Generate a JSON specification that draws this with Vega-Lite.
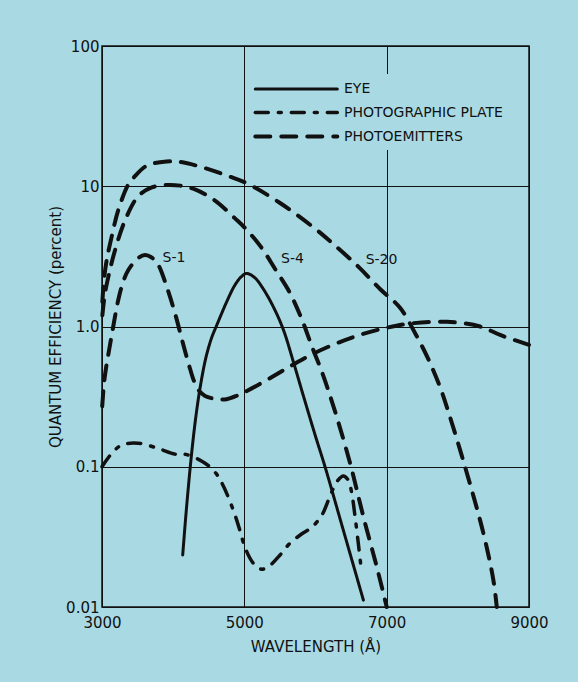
{
  "$schema": "https://vega.github.io/schema/vega-lite/v6.json",
  "width": 427,
  "height": 561,
  "autosize": {"type": "none"},
  "padding": {"left": 102, "top": 46, "right": 49, "bottom": 75},
  "background": "#a9dae4",
  "config": {
    "view": {"stroke": "#111", "strokeWidth": 1.5},
    "font": "DejaVu Sans",
    "axis": {
      "domain": false,
      "ticks": false,
      "grid": true,
      "gridColor": "#111",
      "gridWidth": 1,
      "gridOpacity": 1,
      "labelFont": "DejaVu Sans",
      "labelFontSize": 15,
      "labelColor": "#111",
      "titleFont": "DejaVu Sans",
      "titleFontSize": 15,
      "titleFontWeight": "normal",
      "titleColor": "#111"
    }
  },
  "datasets": {
    "curves": [
      {"curve": "eye", "type": "EYE", "wavelength": 4134, "qe": 0.0235},
      {"curve": "eye", "type": "EYE", "wavelength": 4180, "qe": 0.046},
      {"curve": "eye", "type": "EYE", "wavelength": 4227, "qe": 0.085},
      {"curve": "eye", "type": "EYE", "wavelength": 4270, "qe": 0.14},
      {"curve": "eye", "type": "EYE", "wavelength": 4320, "qe": 0.23},
      {"curve": "eye", "type": "EYE", "wavelength": 4380, "qe": 0.37},
      {"curve": "eye", "type": "EYE", "wavelength": 4460, "qe": 0.6},
      {"curve": "eye", "type": "EYE", "wavelength": 4540, "qe": 0.83},
      {"curve": "eye", "type": "EYE", "wavelength": 4612, "qe": 1.02},
      {"curve": "eye", "type": "EYE", "wavelength": 4752, "qe": 1.5},
      {"curve": "eye", "type": "EYE", "wavelength": 4869, "qe": 1.98},
      {"curve": "eye", "type": "EYE", "wavelength": 4960, "qe": 2.27},
      {"curve": "eye", "type": "EYE", "wavelength": 5034, "qe": 2.39},
      {"curve": "eye", "type": "EYE", "wavelength": 5150, "qe": 2.22},
      {"curve": "eye", "type": "EYE", "wavelength": 5267, "qe": 1.85},
      {"curve": "eye", "type": "EYE", "wavelength": 5408, "qe": 1.38},
      {"curve": "eye", "type": "EYE", "wavelength": 5548, "qe": 0.95},
      {"curve": "eye", "type": "EYE", "wavelength": 5689, "qe": 0.56},
      {"curve": "eye", "type": "EYE", "wavelength": 5830, "qe": 0.32},
      {"curve": "eye", "type": "EYE", "wavelength": 6000, "qe": 0.165},
      {"curve": "eye", "type": "EYE", "wavelength": 6134, "qe": 0.1},
      {"curve": "eye", "type": "EYE", "wavelength": 6400, "qe": 0.034},
      {"curve": "eye", "type": "EYE", "wavelength": 6673, "qe": 0.0112},

      {"curve": "plate", "type": "PHOTOGRAPHIC PLATE", "wavelength": 3000, "qe": 0.1},
      {"curve": "plate", "type": "PHOTOGRAPHIC PLATE", "wavelength": 3140, "qe": 0.125},
      {"curve": "plate", "type": "PHOTOGRAPHIC PLATE", "wavelength": 3277, "qe": 0.143},
      {"curve": "plate", "type": "PHOTOGRAPHIC PLATE", "wavelength": 3510, "qe": 0.147},
      {"curve": "plate", "type": "PHOTOGRAPHIC PLATE", "wavelength": 3791, "qe": 0.135},
      {"curve": "plate", "type": "PHOTOGRAPHIC PLATE", "wavelength": 4026, "qe": 0.123},
      {"curve": "plate", "type": "PHOTOGRAPHIC PLATE", "wavelength": 4190, "qe": 0.122},
      {"curve": "plate", "type": "PHOTOGRAPHIC PLATE", "wavelength": 4448, "qe": 0.106},
      {"curve": "plate", "type": "PHOTOGRAPHIC PLATE", "wavelength": 4600, "qe": 0.09},
      {"curve": "plate", "type": "PHOTOGRAPHIC PLATE", "wavelength": 4705, "qe": 0.073},
      {"curve": "plate", "type": "PHOTOGRAPHIC PLATE", "wavelength": 4845, "qe": 0.049},
      {"curve": "plate", "type": "PHOTOGRAPHIC PLATE", "wavelength": 4939, "qe": 0.035},
      {"curve": "plate", "type": "PHOTOGRAPHIC PLATE", "wavelength": 5010, "qe": 0.0265},
      {"curve": "plate", "type": "PHOTOGRAPHIC PLATE", "wavelength": 5127, "qe": 0.0205},
      {"curve": "plate", "type": "PHOTOGRAPHIC PLATE", "wavelength": 5245, "qe": 0.0186},
      {"curve": "plate", "type": "PHOTOGRAPHIC PLATE", "wavelength": 5360, "qe": 0.0198},
      {"curve": "plate", "type": "PHOTOGRAPHIC PLATE", "wavelength": 5502, "qe": 0.0235},
      {"curve": "plate", "type": "PHOTOGRAPHIC PLATE", "wavelength": 5642, "qe": 0.0285},
      {"curve": "plate", "type": "PHOTOGRAPHIC PLATE", "wavelength": 5800, "qe": 0.033},
      {"curve": "plate", "type": "PHOTOGRAPHIC PLATE", "wavelength": 5947, "qe": 0.037},
      {"curve": "plate", "type": "PHOTOGRAPHIC PLATE", "wavelength": 6088, "qe": 0.045},
      {"curve": "plate", "type": "PHOTOGRAPHIC PLATE", "wavelength": 6205, "qe": 0.062},
      {"curve": "plate", "type": "PHOTOGRAPHIC PLATE", "wavelength": 6299, "qe": 0.078},
      {"curve": "plate", "type": "PHOTOGRAPHIC PLATE", "wavelength": 6391, "qe": 0.086},
      {"curve": "plate", "type": "PHOTOGRAPHIC PLATE", "wavelength": 6462, "qe": 0.08},
      {"curve": "plate", "type": "PHOTOGRAPHIC PLATE", "wavelength": 6509, "qe": 0.065},
      {"curve": "plate", "type": "PHOTOGRAPHIC PLATE", "wavelength": 6556, "qe": 0.044},
      {"curve": "plate", "type": "PHOTOGRAPHIC PLATE", "wavelength": 6603, "qe": 0.028},
      {"curve": "plate", "type": "PHOTOGRAPHIC PLATE", "wavelength": 6636, "qe": 0.02},

      {"curve": "S-1", "type": "PHOTOEMITTERS", "wavelength": 3003, "qe": 0.27},
      {"curve": "S-1", "type": "PHOTOEMITTERS", "wavelength": 3030, "qe": 0.4},
      {"curve": "S-1", "type": "PHOTOEMITTERS", "wavelength": 3060, "qe": 0.52},
      {"curve": "S-1", "type": "PHOTOEMITTERS", "wavelength": 3100, "qe": 0.68},
      {"curve": "S-1", "type": "PHOTOEMITTERS", "wavelength": 3150, "qe": 0.95},
      {"curve": "S-1", "type": "PHOTOEMITTERS", "wavelength": 3229, "qe": 1.55},
      {"curve": "S-1", "type": "PHOTOEMITTERS", "wavelength": 3300, "qe": 2.1},
      {"curve": "S-1", "type": "PHOTOEMITTERS", "wavelength": 3370, "qe": 2.53},
      {"curve": "S-1", "type": "PHOTOEMITTERS", "wavelength": 3500, "qe": 3.05},
      {"curve": "S-1", "type": "PHOTOEMITTERS", "wavelength": 3604, "qe": 3.24},
      {"curve": "S-1", "type": "PHOTOEMITTERS", "wavelength": 3700, "qe": 3.1},
      {"curve": "S-1", "type": "PHOTOEMITTERS", "wavelength": 3791, "qe": 2.75},
      {"curve": "S-1", "type": "PHOTOEMITTERS", "wavelength": 3909, "qe": 1.92},
      {"curve": "S-1", "type": "PHOTOEMITTERS", "wavelength": 4026, "qe": 1.24},
      {"curve": "S-1", "type": "PHOTOEMITTERS", "wavelength": 4143, "qe": 0.74},
      {"curve": "S-1", "type": "PHOTOEMITTERS", "wavelength": 4237, "qe": 0.5},
      {"curve": "S-1", "type": "PHOTOEMITTERS", "wavelength": 4300, "qe": 0.4},
      {"curve": "S-1", "type": "PHOTOEMITTERS", "wavelength": 4370, "qe": 0.345},
      {"curve": "S-1", "type": "PHOTOEMITTERS", "wavelength": 4448, "qe": 0.32},
      {"curve": "S-1", "type": "PHOTOEMITTERS", "wavelength": 4600, "qe": 0.304},
      {"curve": "S-1", "type": "PHOTOEMITTERS", "wavelength": 4750, "qe": 0.303},
      {"curve": "S-1", "type": "PHOTOEMITTERS", "wavelength": 4900, "qe": 0.322},
      {"curve": "S-1", "type": "PHOTOEMITTERS", "wavelength": 5104, "qe": 0.362},
      {"curve": "S-1", "type": "PHOTOEMITTERS", "wavelength": 5400, "qe": 0.44},
      {"curve": "S-1", "type": "PHOTOEMITTERS", "wavelength": 5700, "qe": 0.54},
      {"curve": "S-1", "type": "PHOTOEMITTERS", "wavelength": 5970, "qe": 0.64},
      {"curve": "S-1", "type": "PHOTOEMITTERS", "wavelength": 6300, "qe": 0.76},
      {"curve": "S-1", "type": "PHOTOEMITTERS", "wavelength": 6650, "qe": 0.88},
      {"curve": "S-1", "type": "PHOTOEMITTERS", "wavelength": 7001, "qe": 0.98},
      {"curve": "S-1", "type": "PHOTOEMITTERS", "wavelength": 7329, "qe": 1.05},
      {"curve": "S-1", "type": "PHOTOEMITTERS", "wavelength": 7845, "qe": 1.08},
      {"curve": "S-1", "type": "PHOTOEMITTERS", "wavelength": 8313, "qe": 1.0},
      {"curve": "S-1", "type": "PHOTOEMITTERS", "wavelength": 8594, "qe": 0.87},
      {"curve": "S-1", "type": "PHOTOEMITTERS", "wavelength": 9000, "qe": 0.74},

      {"curve": "S-4", "type": "PHOTOEMITTERS", "wavelength": 3005, "qe": 1.2},
      {"curve": "S-4", "type": "PHOTOEMITTERS", "wavelength": 3040, "qe": 1.7},
      {"curve": "S-4", "type": "PHOTOEMITTERS", "wavelength": 3089, "qe": 2.26},
      {"curve": "S-4", "type": "PHOTOEMITTERS", "wavelength": 3183, "qe": 3.5},
      {"curve": "S-4", "type": "PHOTOEMITTERS", "wavelength": 3323, "qe": 5.7},
      {"curve": "S-4", "type": "PHOTOEMITTERS", "wavelength": 3510, "qe": 8.5},
      {"curve": "S-4", "type": "PHOTOEMITTERS", "wavelength": 3700, "qe": 9.8},
      {"curve": "S-4", "type": "PHOTOEMITTERS", "wavelength": 3900, "qe": 10.2},
      {"curve": "S-4", "type": "PHOTOEMITTERS", "wavelength": 4100, "qe": 10.1},
      {"curve": "S-4", "type": "PHOTOEMITTERS", "wavelength": 4307, "qe": 9.5},
      {"curve": "S-4", "type": "PHOTOEMITTERS", "wavelength": 4588, "qe": 7.9},
      {"curve": "S-4", "type": "PHOTOEMITTERS", "wavelength": 4869, "qe": 5.9},
      {"curve": "S-4", "type": "PHOTOEMITTERS", "wavelength": 5000, "qe": 5.1},
      {"curve": "S-4", "type": "PHOTOEMITTERS", "wavelength": 5231, "qe": 3.71},
      {"curve": "S-4", "type": "PHOTOEMITTERS", "wavelength": 5441, "qe": 2.53},
      {"curve": "S-4", "type": "PHOTOEMITTERS", "wavelength": 5642, "qe": 1.73},
      {"curve": "S-4", "type": "PHOTOEMITTERS", "wavelength": 5806, "qe": 1.13},
      {"curve": "S-4", "type": "PHOTOEMITTERS", "wavelength": 5947, "qe": 0.726},
      {"curve": "S-4", "type": "PHOTOEMITTERS", "wavelength": 6097, "qe": 0.464},
      {"curve": "S-4", "type": "PHOTOEMITTERS", "wavelength": 6261, "qe": 0.261},
      {"curve": "S-4", "type": "PHOTOEMITTERS", "wavelength": 6486, "qe": 0.106},
      {"curve": "S-4", "type": "PHOTOEMITTERS", "wavelength": 6673, "qe": 0.044},
      {"curve": "S-4", "type": "PHOTOEMITTERS", "wavelength": 6860, "qe": 0.0194},
      {"curve": "S-4", "type": "PHOTOEMITTERS", "wavelength": 7001, "qe": 0.01},

      {"curve": "S-20", "type": "PHOTOEMITTERS", "wavelength": 3005, "qe": 1.5},
      {"curve": "S-20", "type": "PHOTOEMITTERS", "wavelength": 3030, "qe": 2.2},
      {"curve": "S-20", "type": "PHOTOEMITTERS", "wavelength": 3066, "qe": 2.98},
      {"curve": "S-20", "type": "PHOTOEMITTERS", "wavelength": 3136, "qe": 4.37},
      {"curve": "S-20", "type": "PHOTOEMITTERS", "wavelength": 3229, "qe": 6.78},
      {"curve": "S-20", "type": "PHOTOEMITTERS", "wavelength": 3370, "qe": 10.3},
      {"curve": "S-20", "type": "PHOTOEMITTERS", "wavelength": 3450, "qe": 11.6},
      {"curve": "S-20", "type": "PHOTOEMITTERS", "wavelength": 3628, "qe": 14.0},
      {"curve": "S-20", "type": "PHOTOEMITTERS", "wavelength": 3909, "qe": 15.0},
      {"curve": "S-20", "type": "PHOTOEMITTERS", "wavelength": 4100, "qe": 14.9},
      {"curve": "S-20", "type": "PHOTOEMITTERS", "wavelength": 4377, "qe": 13.8},
      {"curve": "S-20", "type": "PHOTOEMITTERS", "wavelength": 4799, "qe": 11.7},
      {"curve": "S-20", "type": "PHOTOEMITTERS", "wavelength": 5034, "qe": 10.5},
      {"curve": "S-20", "type": "PHOTOEMITTERS", "wavelength": 5502, "qe": 7.6},
      {"curve": "S-20", "type": "PHOTOEMITTERS", "wavelength": 5970, "qe": 5.1},
      {"curve": "S-20", "type": "PHOTOEMITTERS", "wavelength": 6251, "qe": 3.87},
      {"curve": "S-20", "type": "PHOTOEMITTERS", "wavelength": 6612, "qe": 2.64},
      {"curve": "S-20", "type": "PHOTOEMITTERS", "wavelength": 6907, "qe": 1.85},
      {"curve": "S-20", "type": "PHOTOEMITTERS", "wavelength": 7188, "qe": 1.36},
      {"curve": "S-20", "type": "PHOTOEMITTERS", "wavelength": 7413, "qe": 0.87},
      {"curve": "S-20", "type": "PHOTOEMITTERS", "wavelength": 7582, "qe": 0.59},
      {"curve": "S-20", "type": "PHOTOEMITTERS", "wavelength": 7750, "qe": 0.37},
      {"curve": "S-20", "type": "PHOTOEMITTERS", "wavelength": 7863, "qe": 0.25},
      {"curve": "S-20", "type": "PHOTOEMITTERS", "wavelength": 8101, "qe": 0.1},
      {"curve": "S-20", "type": "PHOTOEMITTERS", "wavelength": 8359, "qe": 0.0336},
      {"curve": "S-20", "type": "PHOTOEMITTERS", "wavelength": 8500, "qe": 0.0155},
      {"curve": "S-20", "type": "PHOTOEMITTERS", "wavelength": 8547, "qe": 0.01}
    ],
    "labels": [
      {"label": "S-1", "wavelength": 4012, "qe": 3.08},
      {"label": "S-4", "wavelength": 5677, "qe": 3.01},
      {"label": "S-20", "wavelength": 6928, "qe": 3.0}
    ]
  },
  "layer": [
    {
      "data": {"name": "curves"},
      "mark": {"type": "line", "interpolate": "catmull-rom", "strokeCap": "round", "color": "#111"},
      "encoding": {
        "x": {
          "field": "wavelength",
          "type": "quantitative",
          "scale": {"domain": [3000, 9000], "nice": false},
          "axis": {
            "title": "WAVELENGTH (Å)",
            "values": [3000, 5000, 7000, 9000],
            "format": "d",
            "labelFlush": false,
            "labelPadding": 8,
            "titlePadding": 9
          }
        },
        "y": {
          "field": "qe",
          "type": "quantitative",
          "scale": {"type": "log", "domain": [0.01, 100], "nice": false},
          "axis": {
            "title": "QUANTUM EFFICIENCY (percent)",
            "values": [0.01, 0.1, 1, 10, 100],
            "labelExpr": "datum.value >= 10 ? format(datum.value, 'd') : (datum.value == 1 ? '1.0' : toString(datum.value))",
            "labelFlush": false,
            "labelPadding": 3,
            "titlePadding": 2,
            "encode": {"labels": {"update": {"dy": {"signal": "datum.value == 0.01 ? -4 : 0"}}}}
          }
        },
        "detail": {"field": "curve"},
        "strokeWidth": {
          "field": "type",
          "type": "nominal",
          "scale": {"domain": ["EYE", "PHOTOGRAPHIC PLATE", "PHOTOEMITTERS"], "range": [3, 4, 4]},
          "legend": null
        },
        "strokeDash": {
          "field": "type",
          "type": "nominal",
          "scale": {
            "domain": ["EYE", "PHOTOGRAPHIC PLATE", "PHOTOEMITTERS"],
            "range": [[1, 0], [13, 10, 3, 10], [15, 11]]
          },
          "legend": {
            "title": null,
            "orient": "none",
            "legendX": 146,
            "legendY": 28,
            "padding": 5,
            "fillColor": "#a9dae4",
            "strokeColor": null,
            "symbolType": "M-1,0H9",
            "symbolSize": 269,
            "symbolStrokeWidth": 4,
            "symbolStrokeColor": "#111",
            "labelFont": "DejaVu Sans",
            "labelFontSize": 14,
            "labelColor": "#111",
            "labelOffset": 70,
            "rowPadding": 6.5,
            "labelLimit": 300,
            "encode": {"symbols": {"update": {"strokeCap": {"value": "round"}}}}
          }
        }
      }
    },
    {
      "data": {"name": "labels"},
      "mark": {"type": "text", "font": "DejaVu Sans", "fontSize": 14, "color": "#111", "align": "center", "baseline": "middle"},
      "encoding": {
        "x": {"field": "wavelength", "type": "quantitative"},
        "y": {"field": "qe", "type": "quantitative"},
        "text": {"field": "label"}
      }
    }
  ]
}
